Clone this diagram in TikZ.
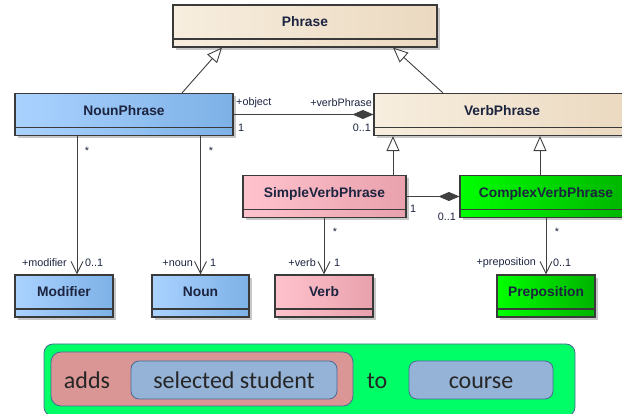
\documentclass[tikz,border=0pt]{standalone}
\usepackage{fontspec}
\setmainfont{Liberation Sans}
\newfontfamily\slidefont{Carlito}
\usetikzlibrary{arrows.meta,shadows}
\definecolor{umlborder}{HTML}{3A3A3A}
\definecolor{umlline}{HTML}{404040}
\definecolor{umltext}{HTML}{1C2440}
\definecolor{phraseL}{HTML}{F7EEDF}
\definecolor{phraseR}{HTML}{EBD9C0}
\definecolor{nounL}{HTML}{AAD2FF}
\definecolor{nounR}{HTML}{7DB1E6}
\definecolor{verbL}{HTML}{FFC3CD}
\definecolor{verbR}{HTML}{E8A1AD}
\definecolor{complexL}{HTML}{00FF00}
\definecolor{complexR}{HTML}{00B300}
\definecolor{slidegreen}{HTML}{00FF66}
\definecolor{slidered}{HTML}{D99694}
\definecolor{slideblue}{HTML}{95B3D7}
\definecolor{slideedge}{HTML}{4A6A96}
\definecolor{slidetext}{HTML}{262626}

\tikzset{
  umlclass/.style={draw=umlborder, line width=1.1pt, minimum height=42pt,
    inner sep=0pt, text height=10pt, text depth=8pt, text=umltext,
    font=\bfseries\fontsize{13.8}{15}\selectfont,
    drop shadow={shadow xshift=3pt, shadow yshift=-3pt, opacity=0.3, fill=black!70},
    path picture={\draw[umlborder, line width=1.1pt]
      ([yshift=8pt]path picture bounding box.south west) --
      ([yshift=8pt]path picture bounding box.south east);}},
  phraseclass/.style={umlclass, left color=phraseL, right color=phraseR},
  nounclass/.style={umlclass, left color=nounL, right color=nounR},
  verbclass/.style={umlclass, left color=verbL, right color=verbR},
  complexclass/.style={umlclass, left color=complexL, right color=complexR},
  role/.style={font=\fontsize{10.8}{12}\selectfont, text=umltext, inner sep=0pt},
  inherit/.style={draw=umlline, line width=0.9pt,
    -{Triangle[open, length=15pt, width=13pt, fill=white]}},
  compose/.style={draw=umlline, line width=0.9pt,
    {Diamond[length=21pt, width=9pt]}-},
  navigate/.style={draw=umlline, line width=0.9pt,
    -{Straight Barb[length=12pt, width=12pt, line width=0.9pt]}},
  slidebox/.style={draw=slideedge, line width=0.8pt, inner sep=0pt,
    text height=17pt, text depth=0pt,
    font=\slidefont\fontsize{24}{28}\selectfont, text=slidetext}
}

\begin{document}
\begin{tikzpicture}[x=1pt, y=-1pt]
  \useasboundingbox (0,0) rectangle (622,414);
  \fill[white] (0,0) rectangle (622,414);

  % classes
  \node[phraseclass, minimum width=264pt] (phrase) at (305,26) {Phrase};
  \node[nounclass, minimum width=218pt] (nounphrase) at (124,114.5) {NounPhrase};
  \node[phraseclass, minimum width=256pt] (verbphrase) at (502,114.5) {VerbPhrase};
  \node[verbclass, minimum width=163pt] (simplevp) at (324.5,196.5) {SimpleVerbPhrase};
  \node[complexclass, minimum width=172pt] (complexvp) at (546,196.5) {ComplexVerbPhrase};
  \node[nounclass, minimum width=98pt] (modifier) at (64,296) {Modifier};
  \node[nounclass, minimum width=97pt] (noun) at (200.5,296) {Noun};
  \node[verbclass, minimum width=98pt] (verb) at (324,296) {Verb};
  \node[complexclass, minimum width=98pt] (preposition) at (546,296) {Preposition};

  % generalizations
  \draw[inherit] ([xshift=58pt]nounphrase.north) -- ([xshift=-83pt]phrase.south);
  \draw[inherit] ([xshift=-59pt]verbphrase.north) -- ([xshift=88pt]phrase.south);
  \draw[inherit] ([xshift=68.5pt]simplevp.north) -- ([xshift=68.5pt]simplevp.north |- verbphrase.south);
  \draw[inherit] ([xshift=-6pt]complexvp.north) -- ([xshift=-6pt]complexvp.north |- verbphrase.south);

  % compositions
  \draw[compose] (verbphrase.west) -- (nounphrase.east);
  \draw[compose] (complexvp.west) -- (simplevp.east);

  % associations
  \draw[navigate] ([xshift=13pt]modifier.north |- nounphrase.south) -- ([xshift=13pt]modifier.north);
  \draw[navigate] (noun.north |- nounphrase.south) -- (noun.north);
  \draw[navigate] (verb.north |- simplevp.south) -- (verb.north);
  \draw[navigate] (preposition.north |- complexvp.south) -- (preposition.north);

  % roles and multiplicities
  \node[role, anchor=west] (objrole) at (236,103) {+object};
  \node[role, anchor=west] (objmult) at (238,128) {1};
  \node[role, anchor=east] (vprole) at (372,103) {+verbPhrase};
  \node[role, anchor=east] (vpmult) at (371,128) {0..1};
  \node[role] (modstar) at (87,151) {*};
  \node[role] (nounstar) at (211,151) {*};
  \node[role] (verbstar) at (335,232) {*};
  \node[role] (prepstar) at (557,232) {*};
  \node[role, anchor=west] (svpmult) at (410,209) {1};
  \node[role, anchor=east] (cvpmult) at (456,217) {0..1};
  \node[role, anchor=east] (modrole) at (67,263) {+modifier};
  \node[role, anchor=west] (modmult) at (85,263) {0..1};
  \node[role, anchor=east] (nounrole) at (193,263) {+noun};
  \node[role, anchor=west] (nounmult) at (210,263) {1};
  \node[role, anchor=east] (verbrole) at (316,263) {+verb};
  \node[role, anchor=west] (verbmult) at (334,263) {1};
  \node[role, anchor=east] (preprole) at (536,263) {+preposition};
  \node[role, anchor=west] (prepmult) at (553,263) {0..1};

  % sentence
  \node[slidebox, fill=slidegreen, rounded corners=9pt, minimum width=531pt, minimum height=72pt] (sentence) at (309.5,380) {};
  \node[slidebox, fill=slidered, rounded corners=10pt, minimum width=302pt, minimum height=54pt] (verbpart) at (202,379) {};
  \node[slidebox, fill=slideblue, rounded corners=8pt, minimum width=206pt, minimum height=38pt] (student) at (234,380) {selected student};
  \node[slidebox, fill=slideblue, rounded corners=8pt, minimum width=144pt, minimum height=38pt] (course) at (481,380) {course};
  \node[slidebox, draw=none] (adds) at (87,380) {adds};
  \node[slidebox, draw=none] (to) at (377,380) {to};
\end{tikzpicture}
\end{document}
